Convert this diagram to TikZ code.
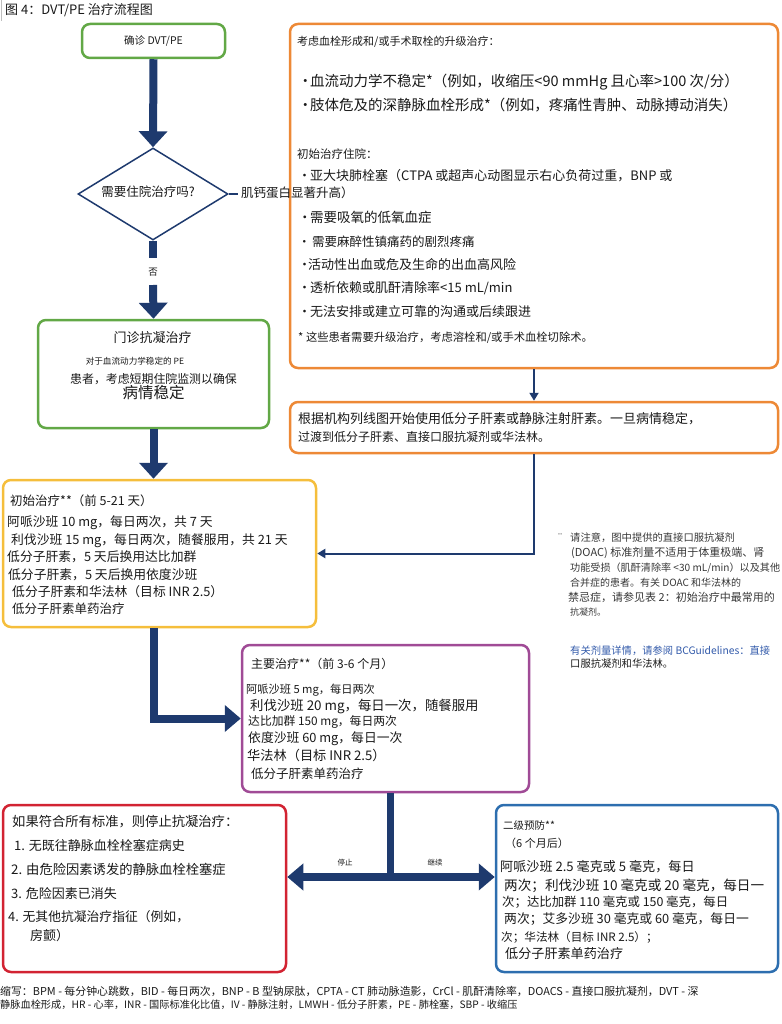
\documentclass[tikz,border=0pt]{standalone}
\usepackage{fontspec}
\setmainfont{Noto Sans CJK SC}
\usetikzlibrary{arrows.meta,shapes.geometric}
\definecolor{navy}{RGB}{30,58,110}
\definecolor{cgreen}{RGB}{98,168,70}
\definecolor{corange}{RGB}{237,137,54}
\definecolor{cyellow}{RGB}{245,190,60}
\definecolor{cpurple}{RGB}{160,75,150}
\definecolor{cred}{RGB}{210,35,50}
\definecolor{cblue}{RGB}{45,110,175}
\definecolor{clink}{RGB}{50,90,170}
\definecolor{ink}{RGB}{25,25,25}
\definecolor{noteink}{RGB}{55,55,55}
\newcommand{\myfs}[1]{\fontsize{#1pt}{#1pt}\selectfont}
\newcommand{\bul}{\makebox[12pt][l]{•}}
\begin{document}
\begin{tikzpicture}[x=1pt,y=-1pt,
  txt/.style={anchor=west, inner sep=0pt, text=ink, text height=0.88em, text depth=0.12em},
  ctr/.style={inner sep=0pt, text=ink, text height=0.88em, text depth=0.12em},
  cbox/.style={draw=#1, line width=2.5pt, rounded corners=8pt, inner sep=0pt},
  bigline/.style={draw=navy, line width=8pt},
  bigarrow/.style={bigline, -{Triangle[width=28pt,length=16pt]}},
  thinarrow/.style={draw=navy, line width=2pt, -{Triangle[width=9pt,length=8pt]}},
  lab/.style={inner sep=0pt, text=ink, font=\myfs{7.5}}
]
\useasboundingbox (0,0) rectangle (781,1024);

% title
\draw[gray!50, line width=1.2pt] (1.5,0) -- (1.5,21);
\node[txt, font=\myfs{13}] (title) at (5,11) {图 4：DVT/PE 治疗流程图};

% boxes
\node[cbox=cgreen, minimum width=143pt, minimum height=34pt] (b1) at (153.5,41) {};
\node[draw=navy, line width=1.5pt, diamond, inner sep=0pt, minimum width=150pt, minimum height=92pt] (dia) at (153,194) {};
\node[cbox=cgreen, minimum width=231pt, minimum height=108pt] (b2) at (153.5,374) {};
\node[cbox=corange, minimum width=488pt, minimum height=344pt] (o1) at (534,196) {};
\node[cbox=corange, minimum width=488pt, minimum height=51pt] (o2) at (534,427.5) {};
\node[cbox=cyellow, minimum width=313pt, minimum height=147pt] (b3) at (159.5,553.5) {};
\node[cbox=cpurple, minimum width=287pt, minimum height=147pt] (p) at (385.5,718.5) {};
\node[cbox=cred, minimum width=283pt, minimum height=167pt] (r) at (144.5,888.5) {};
\node[cbox=cblue, minimum width=282pt, minimum height=167pt] (bl) at (637,888.5) {};

% connectors
\draw[bigarrow] (b1.south) -- (dia.north);
\coordinate (n1) at (153,258);
\coordinate (n2) at (153,285);
\draw[bigline] (dia.south) -- (n1);
\node[ctr, font=\myfs{9.5}] (no) at (153,272) {否};
\draw[bigarrow] (n2) -- (b2.north);
\draw[bigarrow] (b2.south) -- (b2.south |- b3.north);
\draw[draw=navy, line width=8pt, -{Triangle[width=26pt,length=16pt]}] (b3.south -| b2.south) |- (p.west);
\draw[thinarrow] (o1.south) -- (o2.north);
\draw[thinarrow] (o2.south) |- (b3.east);
\coordinate (j) at (390,877);
\draw[draw=navy, line width=7pt] (p.south -| j) -- (j);
\draw[draw=navy, line width=8pt, {Triangle[width=26pt,length=16pt]}-{Triangle[width=26pt,length=16pt]}] (j -| r.east) -- (j -| bl.west);
\node[lab] (stop) at (345,863) {停止};
\node[lab] (cont) at (435,863) {继续};

% box1 and diamond text
\node[ctr, font=\myfs{10.5}] (t1) at (b1.center) {确诊 DVT/PE};
\node[ctr, font=\myfs{12.5}] (tdia) at (148,193) {需要住院治疗吗?};
\node[txt, font=\myfs{12.5}] (ovf) at (241,194) {肌钙蛋白显著升高）};
\draw[draw=navy, line width=2pt] (dia.east) -- ([xshift=-3pt]ovf.west);

% box2 text
\node[ctr, font=\myfs{13}] (g1) at (152.5,339) {门诊抗凝治疗};
\node[ctr, font=\myfs{8.6}] (g2) at (135,361) {对于血流动力学稳定的 PE};
\node[ctr, font=\myfs{11.9}] (g3) at (153.5,380) {患者，考虑短期住院监测以确保};
\node[ctr, font=\myfs{15.5}] (g4) at (153.5,395) {病情稳定};

% orange box 1 text
\node[txt, font=\myfs{11}] (oa) at (297,42) {考虑血栓形成和/或手术取栓的升级治疗：};
\node[txt, font=\myfs{14.5}] (ob) at (298,83) {\bul 血流动力学不稳定*（例如，收缩压<90 mmHg 且心率>100 次/分）};
\node[txt, font=\myfs{14.5}] (oc) at (298,107) {\bul 肢体危及的深静脉血栓形成*（例如，疼痛性青肿、动脉搏动消失）};
\node[txt, font=\myfs{11.5}] (od) at (297,155) {初始治疗住院：};
\node[txt, font=\myfs{13}] (oe) at (298,177) {\bul 亚大块肺栓塞（CTPA 或超声心动图显示右心负荷过重，BNP 或};
\node[txt, font=\myfs{13.5}] (of) at (298,219) {\bul 需要吸氧的低氧血症};
\node[txt, font=\myfs{12.5}] (og) at (298,243) {\bul\hspace{2pt}需要麻醉性镇痛药的剧烈疼痛};
\node[txt, font=\myfs{13}] (oh) at (298,266) {\makebox[10pt][l]{•}活动性出血或危及生命的出血高风险};
\node[txt, font=\myfs{13}] (oi) at (298,289) {\bul 透析依赖或肌酐清除率<15 mL/min};
\node[txt, font=\myfs{13}] (oj) at (298,313) {\bul 无法安排或建立可靠的沟通或后续跟进};
\node[txt, font=\myfs{11.3}] (ok) at (298,338) {* 这些患者需要升级治疗，考虑溶栓和/或手术血栓切除术。};

% orange box 2 text
\node[txt, font=\myfs{13}] (pa) at (298,420) {根据机构列线图开始使用低分子肝素或静脉注射肝素。一旦病情稳定，};
\node[txt, font=\myfs{12}] (pb) at (298,438) {过渡到低分子肝素、直接口服抗凝剂或华法林。};

% yellow box text
\node[txt, font=\myfs{12.5}] (y1) at (10,502) {初始治疗**（前 5-21 天）};
\node[txt, font=\myfs{12.8}] (y2) at (7,523) {阿哌沙班 10 mg，每日两次，共 7 天};
\node[txt, font=\myfs{12.8}] (y3) at (11,541) {利伐沙班 15 mg，每日两次，随餐服用，共 21 天};
\node[txt, font=\myfs{12.8}] (y4) at (7,558) {低分子肝素，5 天后换用达比加群};
\node[txt, font=\myfs{12.8}] (y5) at (8,576) {低分子肝素，5 天后换用依度沙班};
\node[txt, font=\myfs{12.8}] (y6) at (12,593) {低分子肝素和华法林（目标 INR 2.5）};
\node[txt, font=\myfs{12.5}] (y7) at (12,610) {低分子肝素单药治疗};

% note text
\node[txt, font=\myfs{10}, text=noteink] (nq) at (557,538) {¨};
\node[txt, font=\myfs{10.3}, text=noteink] (n1t) at (570,538) {请注意，图中提供的直接口服抗凝剂};
\node[txt, font=\myfs{11}, text=noteink] (n2t) at (571,553) {(DOAC) 标准剂量不适用于体重极端、肾};
\node[txt, font=\myfs{10.1}, text=noteink] (n3t) at (570,568) {功能受损（肌酐清除率 <30 mL/min）以及其他};
\node[txt, font=\myfs{10}, text=noteink] (n4t) at (570,583) {合并症的患者。有关 DOAC 和华法林的};
\node[txt, font=\myfs{11}, text=noteink] (n5t) at (568,598) {禁忌症，请参见表 2：初始治疗中最常用的};
\node[txt, font=\myfs{9}, text=noteink] (n6t) at (570,612) {抗凝剂。};
\node[txt, font=\myfs{10.3}, text=clink] (lk1) at (570,651) {有关剂量详情，请参阅 BCGuidelines：直接};
\node[txt, font=\myfs{10.3}] (lk2) at (570,664) {口服抗凝剂和华法林。};

% purple box text
\node[txt, font=\myfs{12}] (m1) at (251,665) {主要治疗**（前 3-6 个月）};
\node[txt, font=\myfs{11.2}] (m2) at (246,690) {阿哌沙班 5 mg，每日两次};
\node[txt, font=\myfs{13.4}] (m3) at (250,707) {利伐沙班 20 mg，每日一次，随餐服用};
\node[txt, font=\myfs{11.8}] (m4) at (248,722) {达比加群 150 mg，每日两次};
\node[txt, font=\myfs{12.8}] (m5) at (248,739) {依度沙班 60 mg，每日一次};
\node[txt, font=\myfs{13.2}] (m6) at (247,757) {华法林（目标 INR 2.5）};
\node[txt, font=\myfs{12.5}] (m7) at (251,775) {低分子肝素单药治疗};

% red box text
\node[txt, font=\myfs{13.3}] (r1) at (12,823) {如果符合所有标准，则停止抗凝治疗：};
\node[txt, font=\myfs{13}] (r2) at (14,847) {1. 无既往静脉血栓栓塞症病史};
\node[txt, font=\myfs{13.3}] (r3) at (11,871) {2. 由危险因素诱发的静脉血栓栓塞症};
\node[txt, font=\myfs{13}] (r4) at (11,895) {3. 危险因素已消失};
\node[txt, font=\myfs{12.8}] (r5) at (8,918) {4. 无其他抗凝治疗指征（例如，};
\node[txt, font=\myfs{13}] (r6) at (30,937) {房颤）};

% blue box text
\node[txt, font=\myfs{10.5}] (s1) at (503,826) {二级预防**};
\node[txt, font=\myfs{11}] (s2) at (505,844) {（6 个月后）};
\node[txt, font=\myfs{13.1}] (s3) at (500,868) {阿哌沙班 2.5 毫克或 5 毫克，每日};
\node[txt, font=\myfs{13.6}] (s4) at (504,887) {两次；利伐沙班 10 毫克或 20 毫克，每日一};
\node[txt, font=\myfs{12.4}] (s5) at (502,903) {次；达比加群 110 毫克或 150 毫克，每日};
\node[txt, font=\myfs{12.8}] (s6) at (504,920) {两次；艾多沙班 30 毫克或 60 毫克，每日一};
\node[txt, font=\myfs{11.6}] (s7) at (501,938) {次；华法林（目标 INR 2.5）；};
\node[txt, font=\myfs{13.1}] (s8) at (505,955) {低分子肝素单药治疗};

% footer
\node[txt, font=\myfs{10.9}] (f1) at (0,992) {缩写：BPM - 每分钟心跳数，BID - 每日两次，BNP - B 型钠尿肽，CPTA - CT 肺动脉造影，CrCl - 肌酐清除率，DOACS - 直接口服抗凝剂，DVT - 深};
\node[txt, font=\myfs{10.2}] (f2) at (0,1005) {静脉血栓形成，HR - 心率，INR - 国际标准化比值，IV - 静脉注射，LMWH - 低分子肝素，PE - 肺栓塞，SBP - 收缩压};
\end{tikzpicture}
\end{document}
